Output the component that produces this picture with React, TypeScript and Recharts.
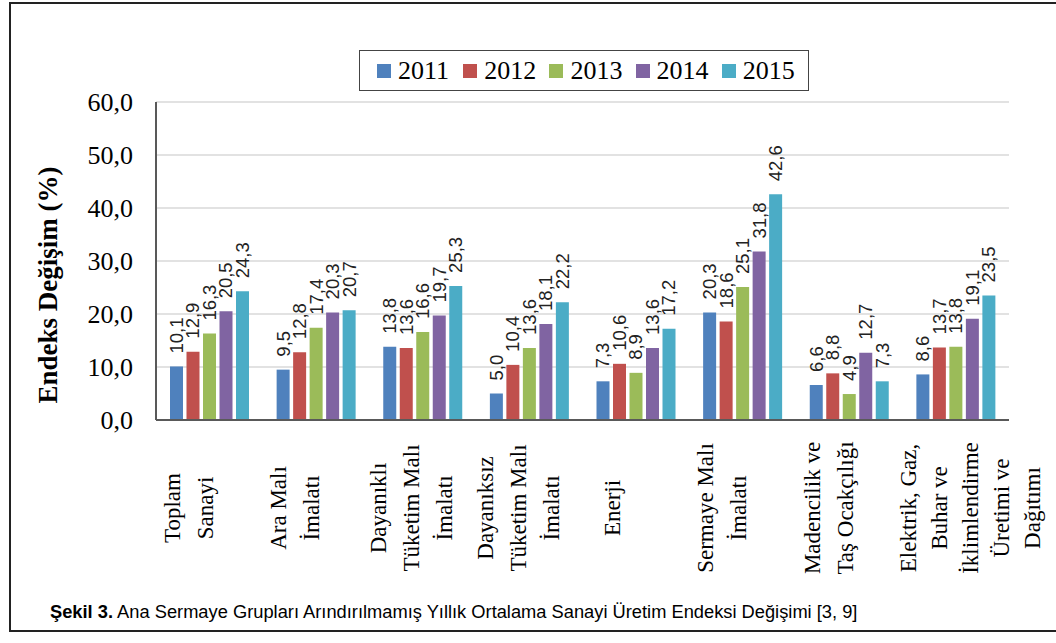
import React from 'react';
import { BarChart, Bar, XAxis, YAxis, CartesianGrid, Legend, LabelList } from 'recharts';

const categories = [
  'Toplam Sanayi',
  'Ara Malı İmalatı',
  'Dayanıklı Tüketim Malı İmalatı',
  'Dayanıksız Tüketim Malı İmalatı',
  'Enerji',
  'Sermaye Malı İmalatı',
  'Madencilik ve Taş Ocakçılığı',
  'Elektrik, Gaz, Buhar ve İklimlendirme Üretimi ve Dağıtımı',
];
const categoryLines = [
  ['Toplam', 'Sanayi'],
  ['Ara Malı', 'İmalatı'],
  ['Dayanıklı', 'Tüketim Malı', 'İmalatı'],
  ['Dayanıksız', 'Tüketim Malı', 'İmalatı'],
  ['Enerji'],
  ['Sermaye Malı', 'İmalatı'],
  ['Madencilik ve', 'Taş Ocakçılığı'],
  ['Elektrik, Gaz,', 'Buhar ve', 'İklimlendirme', 'Üretimi ve', 'Dağıtımı'],
];
const years = ['2011', '2012', '2013', '2014', '2015'];
const v2011 = [10.1, 9.5, 13.8, 5.0, 7.3, 20.3, 6.6, 8.6];
const v2012 = [12.9, 12.8, 13.6, 10.4, 10.6, 18.6, 8.8, 13.7];
const v2013 = [16.3, 17.4, 16.6, 13.6, 8.9, 25.1, 4.9, 13.8];
const v2014 = [20.5, 20.3, 19.7, 18.1, 13.6, 31.8, 12.7, 19.1];
const v2015 = [24.3, 20.7, 25.3, 22.2, 17.2, 42.6, 7.3, 23.5];
const yTicks = [0, 10, 20, 30, 40, 50, 60];
const colors = ['#4F81BD', '#C0504D', '#9BBB59', '#8064A2', '#4BACC6'];
const yAxisTitle = 'Endeks Değişim (%)';
const captionBold = 'Şekil 3.';
const captionText = ' Ana Sermaye Grupları Arındırılmamış Yıllık Ortalama Sanayi Üretim Endeksi Değişimi [3, 9]';

const seriesValues = [v2011, v2012, v2013, v2014, v2015];
const data = categories.map((name, i) => {
  const row: any = { name };
  years.forEach((y, k) => {
    row['y' + y] = seriesValues[k][i];
  });
  return row;
});

const fmt = (v: number) => v.toFixed(1).replace('.', ',');
const SERIF = '"Liberation Serif", "Times New Roman", serif';

const XTick = (props: any) => {
  const { x, y, index } = props;
  const lines: string[] = categoryLines[index] || [];
  const n = lines.length;
  const first = n === 1 ? -23 : n === 2 ? -37 : n === 3 ? -44 : -47;
  const step = n >= 5 ? 31 : 33;
  const cy = y + 80;
  return (
    <g>
      {lines.map((ln, i) => {
        const lx = x + first + i * step;
        return (
          <text
            key={i}
            x={lx}
            y={cy}
            transform={`rotate(-90, ${lx}, ${cy})`}
            textAnchor="middle"
            dominantBaseline="central"
            fontFamily={SERIF}
            fontSize={23}
            fill="#000"
          >
            {ln}
          </text>
        );
      })}
    </g>
  );
};

const renderLabel = (props: any) => {
  const { x, y, width, value } = props;
  const cx = x + width / 2;
  const ty = y - 13;
  return (
    <text
      x={cx}
      y={ty}
      transform={`rotate(-90, ${cx}, ${ty})`}
      textAnchor="start"
      dominantBaseline="central"
      fontFamily='"Liberation Sans", Arial, sans-serif'
      fontSize={18.5}
      fill="#222"
    >
      {fmt(value)}
    </text>
  );
};

const renderLegend = () => (
  <div
    style={{
      border: '1.5px solid #444',
      width: 450,
      height: 41,
      boxSizing: 'border-box',
      display: 'flex',
      alignItems: 'center',
      paddingLeft: 17,
      background: '#fff',
    }}
  >
    {years.map((yr, k) => (
      <div key={yr} style={{ display: 'flex', alignItems: 'center', width: 89 }}>
        <div style={{ width: 14, height: 14, background: colors[k], marginRight: 7 }} />
        <span style={{ fontFamily: SERIF, fontSize: 26, color: '#000', lineHeight: '26px' }}>{yr}</span>
      </div>
    ))}
  </div>
);

const YTitle = (props: any) => {
  const { viewBox } = props;
  const cx = viewBox.x + 2;
  const cy = viewBox.y + viewBox.height / 2 + 24;
  return (
    <text
      x={cx}
      y={cy}
      transform={`rotate(-90, ${cx}, ${cy})`}
      textAnchor="middle"
      dominantBaseline="central"
      fontFamily={SERIF}
      fontWeight="bold"
      fontSize={27}
      fill="#000"
    >
      {yAxisTitle}
    </text>
  );
};

export default function App() {
  return (
    <div
      style={{
        position: 'absolute',
        left: 0,
        top: 0,
        width: 1056,
        height: 643,
        overflow: 'hidden',
        background: '#fff',
      }}
    >
      <div
        style={{
          position: 'absolute',
          left: 9,
          top: 2,
          width: 1200,
          height: 630,
          border: '2px solid #222',
          boxSizing: 'border-box',
        }}
      />
      <div style={{ position: 'absolute', left: 0, top: 0 }}>
        <BarChart
          width={1056}
          height={643}
          data={data}
          margin={{ top: 102, left: 46, right: 47, bottom: 83 }}
          barSize={13}
          barGap={3.5}
        >
          <CartesianGrid vertical={false} stroke="#D9D9D9" strokeWidth={1.5} />
          <XAxis
            dataKey="name"
            interval={0}
            height={140}
            tickLine={false}
            axisLine={{ stroke: '#595959', strokeWidth: 2 }}
            tick={<XTick />}
          />
          <XAxis
            xAxisId="top"
            orientation="top"
            dataKey="name"
            height={0}
            tick={false}
            tickLine={false}
            axisLine={{ stroke: '#595959', strokeWidth: 2 }}
          />
          <YAxis
            domain={[0, 60]}
            ticks={yTicks}
            width={110}
            tickLine={false}
            tickMargin={17}
            tickFormatter={fmt}
            axisLine={{ stroke: '#595959', strokeWidth: 2 }}
            tick={{ fontFamily: SERIF, fontSize: 26, fill: '#000' }}
            label={<YTitle />}
          />
          <YAxis
            yAxisId="right"
            orientation="right"
            domain={[0, 60]}
            width={0}
            tick={false}
            tickLine={false}
            axisLine={{ stroke: '#595959', strokeWidth: 2 }}
          />
          <Legend
            layout="horizontal"
            verticalAlign="middle"
            align="center"
            wrapperStyle={{ top: 50, left: 359, width: 450 }}
            content={renderLegend}
          />
          {years.map((yr, k) => (
            <Bar
              key={yr}
              dataKey={'y' + yr}
              name={yr}
              fill={colors[k]}
              isAnimationActive={false}
            >
              <LabelList dataKey={'y' + yr} content={renderLabel} />
            </Bar>
          ))}
        </BarChart>
      </div>
      <div
        style={{
          position: 'absolute',
          left: 50,
          top: 601,
          fontFamily: '"Liberation Sans", Arial, sans-serif',
          fontSize: 18.3,
          color: '#000',
          whiteSpace: 'nowrap',
        }}
      >
        <b>{captionBold}</b>
        {captionText}
      </div>
    </div>
  );
}
